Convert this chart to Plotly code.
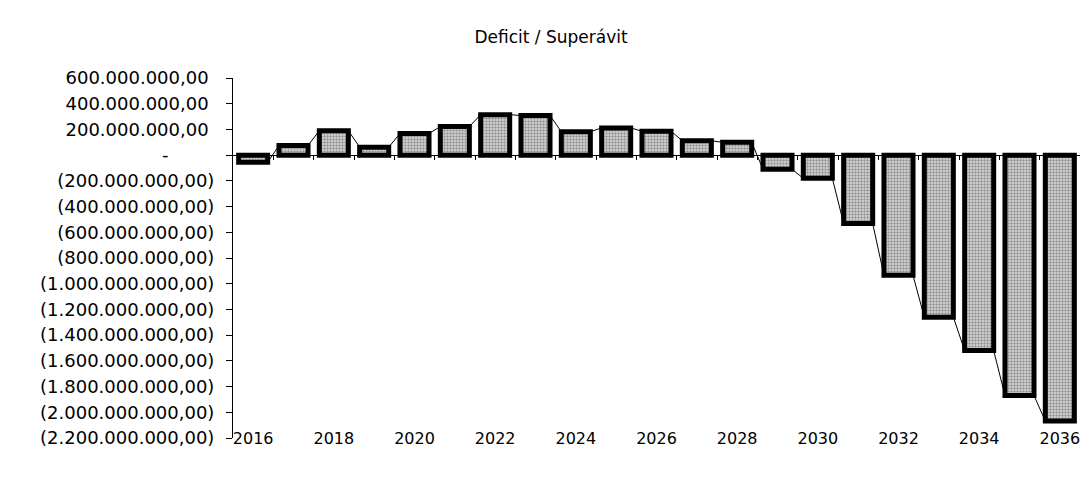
#Deficit / Superavit bar chart

#Importing libraries
import plotly.graph_objs as go

#Data
years = list(range(2016, 2037))
values = [-55e6, 75e6, 190e6, 62e6, 168e6, 222e6, 315e6, 308e6, 182e6, 212e6, 186e6,
          112e6, 100e6, -110e6, -180e6, -532e6, -935e6, -1260e6, -1520e6, -1870e6, -2068e6]

#y ticks and their labels (accounting format)
y_ticks = [600e6, 400e6, 200e6, 0, -200e6, -400e6, -600e6, -800e6, -1000e6, -1200e6,
           -1400e6, -1600e6, -1800e6, -2000e6, -2200e6]
y_labels = ["600.000.000,00\u00a0", "400.000.000,00\u00a0", "200.000.000,00\u00a0",
            "-\u00a0\u00a0\u00a0\u00a0\u00a0\u00a0\u00a0\u00a0", "(200.000.000,00)", "(400.000.000,00)",
            "(600.000.000,00)", "(800.000.000,00)", "(1.000.000.000,00)", "(1.200.000.000,00)",
            "(1.400.000.000,00)", "(1.600.000.000,00)", "(1.800.000.000,00)",
            "(2.000.000.000,00)", "(2.200.000.000,00)"]
x_labels = years[::2]

y_min, y_max = -2200e6, 600e6
x_range = [years[0] - 0.5, years[-1] + 0.5]
bar_w = 0.72

#series lines: connect the end of each bar to the start of the next one
line_x, line_y = [], []
for yr, v in zip(years, values):
    line_x += [yr - bar_w / 2, yr + bar_w / 2]
    line_y += [v, v]

font = dict(family="DejaVu Sans", color="black")

data = [
    go.Scatter(x=line_x, y=line_y, mode='lines', line=dict(color='black', width=1),
               xaxis='x', yaxis='y', hoverinfo='skip', showlegend=False),
    go.Bar(x=years, y=values, width=bar_w, xaxis='x2', yaxis='y',
           marker=dict(color='#b4b4b4',
                       line=dict(color='black', width=5),
                       pattern=dict(shape='.', bgcolor='#dcdcdc', fgcolor='#4a4a4a',
                                    size=3, solidity=0.5)),
           showlegend=False),
]

zero_pos = (0 - y_min) / (y_max - y_min)

#page has an 8px body margin, so the figure is 8px smaller than the window
layout = go.Layout(
    width=1080, height=478,
    paper_bgcolor='white', plot_bgcolor='white',
    margin=dict(l=225, r=8, t=70, b=48, autoexpand=False),
    title=dict(text="Deficit / Superávit", x=543 / 1080, xref='container',
               y=1 - 29 / 478, yref='container', yanchor='middle', xanchor='center',
               font=dict(family="DejaVu Sans", size=17, color="black")),
    #bottom axis only carries the year labels
    xaxis=dict(range=x_range, anchor='free', position=0.03, showline=False,
               showgrid=False, zeroline=False, ticks='', tickvals=x_labels,
               ticktext=[str(v) for v in x_labels], tickfont=dict(size=16, **font),
               automargin=False),
    #axis line through zero with ticks between the bars
    xaxis2=dict(range=x_range, overlaying='x', anchor='free', position=zero_pos,
                showline=True, linecolor='black', linewidth=1, showgrid=False,
                zeroline=False, ticks='outside', ticklen=4, tickcolor='black',
                tickvals=[y + 0.5 for y in years], showticklabels=False,
                automargin=False),
    yaxis=dict(range=[y_min, y_max], showline=True, linecolor='black', linewidth=1,
               showgrid=False, zeroline=False, ticks='outside', ticklen=6,
               tickcolor='black', tickvals=y_ticks, ticktext=y_labels,
               tickfont=dict(size=18, **font), ticklabelstandoff=8, automargin=False),
    bargap=0.2,
)

fig = go.Figure(data=data, layout=layout)
fig.write_html("out.html")
